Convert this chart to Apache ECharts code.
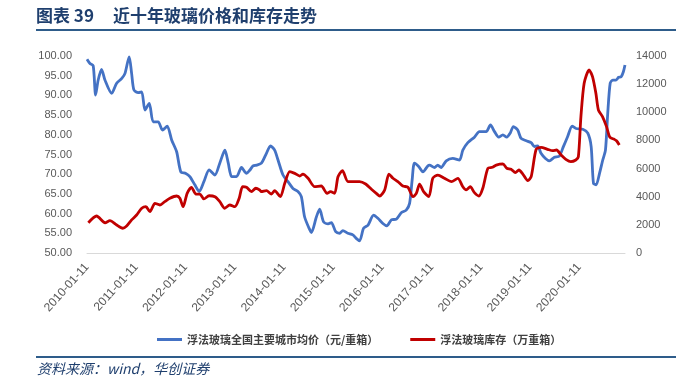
<!DOCTYPE html>
<html>
<head>
<meta charset="utf-8">
<script src="https://cdn.jsdelivr.net/npm/echarts@6/dist/echarts.min.js"></script>
<style>
  html, body { margin: 0; padding: 0; background: #fff; }
  #main { width: 676px; height: 383px; }
</style>
</head>
<body>
<div id="main"></div>
<script>
// glass price (left axis) and glass inventory (right axis)

const priceDates = [
  '2010-01-11','2010-02-02','2010-02-26','2010-03-16','2010-04-04','2010-04-29','2010-05-24','2010-07-13',
  '2010-08-19','2010-09-26','2010-10-20','2010-11-20','2010-12-08','2010-12-25','2011-01-26','2011-02-21',
  '2011-03-17','2011-04-18','2011-05-17','2011-06-23','2011-07-25','2011-08-29','2011-10-01','2011-11-07',
  '2011-12-08','2012-01-14','2012-02-13','2012-03-21','2012-04-22','2012-05-27','2012-07-05','2012-08-17',
  '2012-09-22','2012-10-30','2012-11-24','2012-12-19','2013-01-24','2013-03-02','2013-04-08','2013-05-02',
  '2013-05-27','2013-06-22','2013-07-28','2013-09-03','2013-10-03','2013-11-03','2013-11-28','2014-01-04',
  '2014-02-10','2014-03-19','2014-04-25','2014-05-20','2014-06-13','2014-07-16','2014-08-03','2014-09-09',
  '2014-10-03','2014-11-01','2014-12-04','2014-12-29','2015-01-30','2015-02-28','2015-03-24','2015-04-30',
  '2015-06-06','2015-07-01','2015-07-26','2015-08-25','2015-09-27','2015-11-07','2015-12-09','2016-01-15',
  '2016-02-13','2016-03-18','2016-04-24','2016-05-30','2016-07-06','2016-07-31','2016-08-19','2016-09-05',
  '2016-10-08','2016-11-07','2016-12-13','2016-12-26','2017-02-01','2017-02-25','2017-03-22','2017-04-29',
  '2017-06-16','2017-08-05','2017-08-30','2017-10-06','2017-11-24','2017-12-31','2018-02-19','2018-03-23',
  '2018-04-22','2018-05-23','2018-06-23','2018-07-22','2018-08-16','2018-09-09','2018-10-11','2018-11-05',
  '2018-12-13','2019-01-19','2019-02-12','2019-03-08','2019-04-02','2019-05-05','2019-06-03','2019-07-10',
  '2019-08-16','2019-09-15','2019-10-16','2019-11-19','2019-12-18','2020-02-06','2020-03-14','2020-04-08',
  '2020-04-25','2020-05-15','2020-06-09','2020-07-03','2020-07-23','2020-08-09','2020-08-27','2020-09-15',
  '2020-10-10','2020-10-29','2020-11-16','2020-12-03','2020-12-15'
];
const priceValues = [
  99.2, 98.1, 97.5, 90.1, 93.9, 96.6, 93.9, 90.5,
  93.1, 94.3, 95.6, 99.8, 95.6, 91.4, 90.7, 90.9,
  86.3, 88.0, 83.3, 83.3, 81.2, 82.2, 78.7, 75.7,
  70.6, 70.2, 69.4, 67.3, 65.6, 68.1, 71.1, 69.8,
  72.8, 76.1, 72.8, 69.4, 69.4, 71.7, 70.2, 71.0,
  72.1, 72.3, 72.8, 75.3, 77.2, 76.1, 73.6, 69.8,
  68.1, 66.4, 65.6, 64.3, 59.2, 56.3, 55.2, 59.2,
  61.1, 57.9, 57.4, 57.7, 55.4, 55.0, 55.7, 55.0,
  54.6, 53.7, 53.1, 56.3, 57.1, 59.6, 58.8, 57.5,
  56.9, 58.4, 58.6, 60.2, 60.9, 62.6, 68.5, 72.8,
  71.9, 70.6, 72.1, 72.3, 71.7, 72.3, 71.7, 73.4,
  74.0, 73.6, 76.1, 78.0, 79.4, 80.8, 80.8, 82.5,
  80.8, 79.4, 80.0, 79.4, 80.4, 82.1, 81.2, 79.1,
  78.5, 78.0, 77.0, 77.2, 75.3, 74.0, 73.4, 74.3,
  74.6, 77.0, 79.5, 82.2, 81.6, 81.4, 80.4, 77.0,
  67.7, 67.3, 70.2, 73.6, 76.1, 85.5, 93.1, 93.9,
  93.9, 94.6, 94.7, 96.0, 97.7
];

const stockDates = [
  '2010-01-21','2010-03-23','2010-05-25','2010-06-30','2010-08-19','2010-10-03','2010-11-01','2010-12-08',
  '2011-01-14','2011-02-21','2011-03-24','2011-04-23','2011-05-30','2011-07-06','2011-08-11','2011-09-18',
  '2011-11-07','2011-12-01','2011-12-25','2012-01-24','2012-02-25','2012-03-29','2012-04-27','2012-05-27',
  '2012-07-05','2012-08-17','2012-09-22','2012-10-29','2012-12-05','2013-01-12','2013-02-13','2013-03-10',
  '2013-04-08','2013-05-15','2013-06-16','2013-07-15','2013-07-27','2013-09-03','2013-10-10','2013-11-03',
  '2013-12-15','2014-01-17','2014-02-23','2014-04-01','2014-05-08','2014-06-01','2014-07-09','2014-08-27',
  '2014-10-15','2014-11-27','2014-12-22','2015-01-22','2015-02-16','2015-03-21','2015-05-01','2015-06-20',
  '2015-07-26','2015-09-09','2015-10-22','2015-11-27','2015-12-23','2016-01-28','2016-02-29','2016-03-30',
  '2016-05-05','2016-06-11','2016-07-19','2016-08-25','2016-09-19','2016-10-13','2016-11-12','2016-12-21',
  '2017-01-19','2017-02-26','2017-04-16','2017-06-06','2017-07-24','2017-08-30','2017-09-24','2017-10-24',
  '2017-11-24','2017-12-27','2018-01-25','2018-03-04','2018-04-06','2018-05-05','2018-06-23','2018-07-22',
  '2018-08-23','2018-09-24','2018-10-20','2018-11-18','2018-12-25','2019-01-19','2019-02-25','2019-04-02',
  '2019-05-21','2019-06-27','2019-07-26','2019-08-29','2019-10-03','2019-11-09','2019-12-16','2020-01-04',
  '2020-01-23','2020-02-16','2020-03-24','2020-04-18','2020-05-13','2020-06-01','2020-07-01','2020-07-31',
  '2020-08-25','2020-09-26','2020-10-13','2020-11-03'
];
const stockValues = [
  2150, 2630, 2150, 2300, 1990, 1760, 1920, 2350,
  2700, 3180, 3290, 2940, 3530, 3410, 3650, 3890,
  4050, 3890, 3290, 4240, 4670, 4190, 4190, 3840,
  4070, 4000, 3650, 3180, 3410, 3290, 3890, 4710,
  4670, 4360, 4600, 4480, 4360, 4430, 4190, 4430,
  4000, 4950, 5780, 5660, 5470, 5610, 5310, 4710,
  4760, 4240, 4360, 4240, 5420, 5850, 5070, 5070,
  5070, 4900, 4530, 4240, 4050, 4480, 5610, 5310,
  5070, 4760, 4670, 4000, 4240, 4900, 4360, 4000,
  5310, 5540, 5310, 5070, 5310, 4710, 4480, 4710,
  4290, 4050, 4600, 6020, 6090, 6250, 6330, 6020,
  5950, 5710, 5900, 5610, 5140, 5420, 7370, 7510,
  7370, 7270, 7320, 6960, 6660, 6490, 6610, 6840,
  9690, 12060, 13010, 12530, 11350, 10160, 9690, 8980,
  8220, 8080, 7980, 7680
];

const xTickDates = [
  '2010-01-11','2011-01-11','2012-01-11','2013-01-11','2014-01-11','2015-01-11',
  '2016-01-11','2017-01-11','2018-01-11','2019-01-11','2020-01-11'
];

const seriesNames = ['浮法玻璃全国主要城市均价（元/重箱）', '浮法玻璃库存（万重箱）'];
const titleNo = '图表 39';
const titleText = '近十年玻璃价格和库存走势';
const sourceText = '资料来源：wind，华创证券';

const toTs = s => echarts.time.parse(s).getTime();
const pricePairs = priceDates.map((d, i) => [toTs(d), priceValues[i]]);
const stockPairs = stockDates.map((d, i) => [toTs(d), stockValues[i]]);
const tickTs = xTickDates.map(toTs);

const chart = echarts.init(document.getElementById('main'), null, { renderer: 'canvas' });
const navy = '#1F3F6E';
const gray = '#595959';
const numFont = 'Liberation Sans, Arial, sans-serif';
const cjkFont = '"Noto Sans CJK SC", sans-serif';

chart.setOption({
  backgroundColor: '#fff',
  animation: false,
  grid: { left: 87, right: 51, top: 56, bottom: 130, outerBoundsMode: 'none', containLabel: false },
  legend: {
    left: 152, top: 329, itemWidth: 25, itemHeight: 3, itemGap: 32, icon: 'rect',
    textStyle: { fontFamily: cjkFont, fontSize: 11, fontWeight: 'bold', color: '#404040' },
    data: seriesNames
  },
  xAxis: {
    type: 'value',
    min: pricePairs[0][0],
    max: pricePairs[pricePairs.length - 1][0],
    axisLine: { show: true, lineStyle: { color: '#D9D9D9', width: 1 } },
    axisTick: { show: false },
    splitLine: { show: false },
    axisLabel: {
      customValues: tickTs,
      rotate: 48, margin: 12, hideOverlap: false, showMinLabel: true, showMaxLabel: true,
      color: gray, fontSize: 12, fontFamily: numFont,
      formatter: v => xTickDates[tickTs.indexOf(v)] || ''
    }
  },
  yAxis: [
    {
      type: 'value', min: 50, max: 100, interval: 5,
      axisLine: { show: false }, axisTick: { show: false }, splitLine: { show: false },
      axisLabel: { color: gray, fontSize: 11, fontFamily: numFont, margin: 15, formatter: v => v.toFixed(2) }
    },
    {
      type: 'value', min: 0, max: 14000, interval: 2000,
      axisLine: { show: false }, axisTick: { show: false }, splitLine: { show: false },
      axisLabel: { color: gray, fontSize: 11, fontFamily: numFont, margin: 11, formatter: v => String(v) }
    }
  ],
  series: [
    {
      name: seriesNames[0], type: 'line', yAxisIndex: 0, data: pricePairs,
      showSymbol: false, symbol: 'none', smooth: 0.25,
      lineStyle: { color: '#4472C4', width: 2.8 }, itemStyle: { color: '#4472C4' }
    },
    {
      name: seriesNames[1], type: 'line', yAxisIndex: 1, data: stockPairs,
      showSymbol: false, symbol: 'none', smooth: 0.25,
      lineStyle: { color: '#C00000', width: 2.8 }, itemStyle: { color: '#C00000' }
    }
  ],
  graphic: [
    { type: 'text', left: 36, top: 7, style: { text: titleNo, font: 'bold 17px "Noto Sans CJK SC", sans-serif', fill: navy } },
    { type: 'text', left: 113, top: 7, style: { text: titleText, font: 'bold 17px "Noto Sans CJK SC", sans-serif', fill: navy } },
    { type: 'rect', left: 36, top: 29, shape: { width: 640, height: 2 }, style: { fill: '#2E5C8A' } },
    { type: 'rect', left: 36, top: 356, shape: { width: 640, height: 2 }, style: { fill: '#2E5C8A' } },
    { type: 'text', left: 37, top: 362, style: { text: sourceText, font: 'italic 14px "Noto Sans CJK SC", sans-serif', fill: navy } }
  ]
});
</script>
</body>
</html>
